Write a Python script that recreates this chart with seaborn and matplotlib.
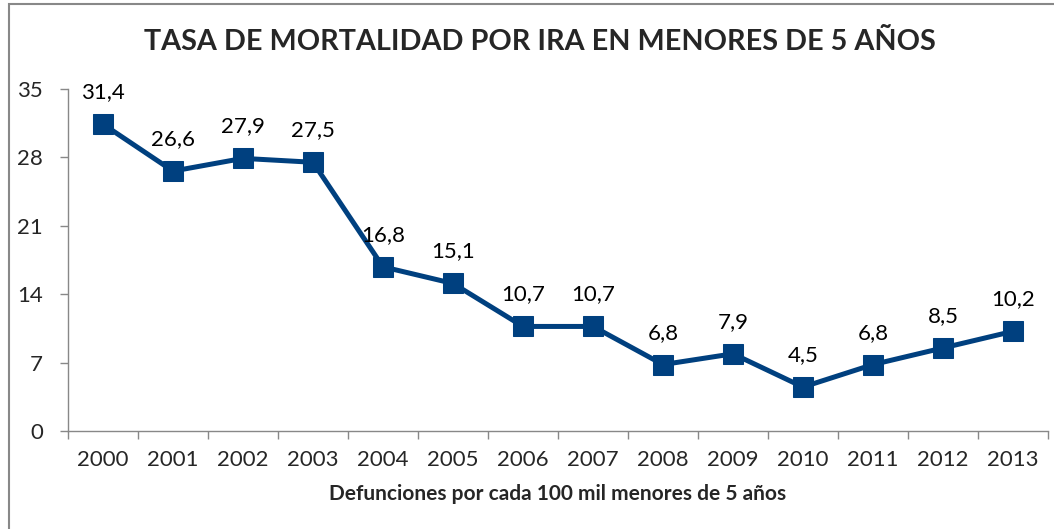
import matplotlib
matplotlib.use("Agg")
import matplotlib.pyplot as plt
import seaborn as sns
import pandas as pd
import numpy as np
from matplotlib.patches import Rectangle

years = ["2000", "2001", "2002", "2003", "2004", "2005", "2006", "2007",
         "2008", "2009", "2010", "2011", "2012", "2013"]
tasa = [31.4, 26.6, 27.9, 27.5, 16.8, 15.1, 10.7, 10.7, 6.8, 7.9, 4.5, 6.8, 8.5, 10.2]
yticks = [0, 7, 14, 21, 28, 35]
title = "TASA DE MORTALIDAD POR IRA EN MENORES DE 5 AÑOS"
xlabel = "Defunciones por cada 100 mil menores de 5 años"

sns.set_theme(style="white")
plt.rcParams['font.family'] = ['Lato', 'DejaVu Sans']

df = pd.DataFrame({"pos": np.arange(len(years)), "tasa": tasa})

fig = plt.figure(figsize=(10.54, 5.29), dpi=100)
ax = fig.add_axes([68/1054, 1-431/529, (1048-68)/1054, (431-89)/529])

color = "#00407F"
sns.lineplot(data=df, x="pos", y="tasa", ax=ax, color=color, linewidth=3.6,
             marker="s", markersize=14, markeredgecolor=color, markerfacecolor=color)

for i, v in enumerate(tasa):
    ax.annotate(f"{v:.1f}".replace(".", ","), (i, v), xytext=(0, 23),
                textcoords="offset points", ha="center", va="center",
                fontsize=16, color="black")

ax.set_xlim(-0.5, len(years) - 0.5)
ax.set_ylim(0, 35)
ax.set_yticks(yticks)
ax.set_yticklabels([str(t) for t in yticks], fontsize=16)
ax.set_xticks(np.arange(len(years)))
ax.set_xticklabels(years, fontsize=16)
ax.set_xticks(np.arange(len(years) + 1) - 0.5, minor=True)
ax.tick_params(axis="x", which="major", length=0, pad=14)
ax.tick_params(axis="x", which="minor", length=6, color="#888888", width=1, bottom=True)
ax.tick_params(axis="y", which="major", length=6, color="#888888", width=1, left=True, pad=12)
for s in ["top", "right"]:
    ax.spines[s].set_visible(False)
for s in ["left", "bottom"]:
    ax.spines[s].set_color("#888888")
    ax.spines[s].set_linewidth(1)
ax.set_xlabel(xlabel, fontsize=15, fontweight="bold", labelpad=10)
ax.set_ylabel("")

fig.text(540/1054, 1-42/529, title, ha="center", va="center", fontsize=20.7, fontweight="bold")

fig.patches.append(Rectangle((9/1054, -0.1), 1.2, 1.1 - 4/529, transform=fig.transFigure,
                             fill=False, edgecolor="#888888", linewidth=1.5))

fig.savefig("out.png", dpi=100)
